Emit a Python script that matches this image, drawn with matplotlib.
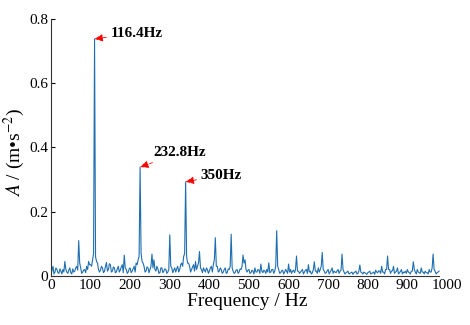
import numpy as np
import matplotlib
matplotlib.use("Agg")
import matplotlib.pyplot as plt

plt.rcParams['font.family'] = ['Liberation Serif', 'DejaVu Serif']
plt.rcParams['mathtext.fontset'] = 'stix'

# spectrum: values at every 5 Hz ...
freq = np.arange(0, 985, 5)
amp = [
    0.005, 0.03, 0.012, 0.02, 0.008, 0.015, 0.02, 0.045, 0.012, 0.018,
    0.01, 0.022, 0.015, 0.03, 0.11, 0.025, 0.012, 0.02, 0.03, 0.045,
    0.035, 0.05, 0.738, 0.045, 0.02, 0.018, 0.025, 0.015, 0.042, 0.02,
    0.035, 0.015, 0.025, 0.012, 0.03, 0.018, 0.035, 0.065, 0.02, 0.012,
    0.025, 0.015, 0.03, 0.04, 0.05, 0.339, 0.045, 0.03, 0.015, 0.025,
    0.02, 0.068, 0.05, 0.015, 0.022, 0.01, 0.025, 0.015, 0.02, 0.012,
    0.128, 0.025, 0.018, 0.012, 0.03, 0.02, 0.04, 0.06, 0.293, 0.04,
    0.03, 0.02, 0.035, 0.045, 0.03, 0.076, 0.02, 0.025, 0.012, 0.02,
    0.015, 0.03, 0.035, 0.119, 0.03, 0.015, 0.02, 0.012, 0.025, 0.01,
    0.02, 0.13, 0.015, 0.01, 0.02, 0.012, 0.02, 0.065, 0.05, 0.012,
    0.02, 0.01, 0.015, 0.025, 0.012, 0.018, 0.037, 0.01, 0.015, 0.02,
    0.041, 0.012, 0.02, 0.015, 0.141, 0.02, 0.01, 0.018, 0.012, 0.015,
    0.037, 0.02, 0.015, 0.01, 0.062, 0.015, 0.012, 0.02, 0.012, 0.02,
    0.035, 0.015, 0.01, 0.044, 0.015, 0.025, 0.02, 0.073, 0.015, 0.01,
    0.02, 0.012, 0.025, 0.015, 0.01, 0.02, 0.015, 0.068, 0.012, 0.01,
    0.015, 0.008, 0.012, 0.01, 0.015, 0.008, 0.034, 0.01, 0.012, 0.008,
    0.01, 0.015, 0.008, 0.012, 0.018, 0.01, 0.015, 0.03, 0.012, 0.02,
    0.062, 0.02, 0.015, 0.03, 0.012, 0.025, 0.01, 0.02, 0.012, 0.015,
    0.02, 0.01, 0.015, 0.044, 0.012, 0.02, 0.01, 0.025, 0.012, 0.015,
    0.01, 0.02, 0.012, 0.068, 0.015, 0.01, 0.015,
]
# ... and the noise in between (2.5, 7.5, ... Hz)
freq_mid = np.arange(2.5, 980, 5)
amp_mid = [
    0.018, 0.006, 0.025, 0.01, 0.022, 0.006, 0.012, 0.02, 0.008, 0.025,
    0.006, 0.012, 0.025, 0.018, 0.04, 0.008, 0.018, 0.01, 0.02, 0.035,
    0.03, 0.07, 0.06, 0.04, 0.012, 0.03, 0.01, 0.028, 0.015, 0.038,
    0.012, 0.028, 0.01, 0.022, 0.012, 0.028, 0.01, 0.025, 0.008, 0.022,
    0.01, 0.022, 0.012, 0.035, 0.06, 0.07, 0.04, 0.012, 0.028, 0.01,
    0.03, 0.025, 0.02, 0.03, 0.008, 0.025, 0.01, 0.022, 0.008, 0.02,
    0.03, 0.01, 0.025, 0.022, 0.012, 0.035, 0.03, 0.07, 0.06, 0.04,
    0.012, 0.028, 0.015, 0.02, 0.04, 0.025, 0.01, 0.018, 0.025, 0.008,
    0.025, 0.012, 0.05, 0.03, 0.012, 0.025, 0.008, 0.02, 0.008, 0.022,
    0.03, 0.025, 0.008, 0.018, 0.008, 0.022, 0.03, 0.04, 0.02, 0.018,
    0.008, 0.018, 0.006, 0.012, 0.02, 0.008, 0.015, 0.018, 0.008, 0.012,
    0.01, 0.02, 0.008, 0.03, 0.03, 0.008, 0.016, 0.006, 0.02, 0.008,
    0.012, 0.008, 0.018, 0.02, 0.015, 0.008, 0.016, 0.006, 0.018, 0.008,
    0.012, 0.006, 0.02, 0.015, 0.008, 0.012, 0.03, 0.02, 0.008, 0.016,
    0.006, 0.018, 0.008, 0.012, 0.016, 0.008, 0.018, 0.02, 0.006, 0.012,
    0.006, 0.01, 0.005, 0.012, 0.006, 0.015, 0.012, 0.006, 0.01, 0.005,
    0.012, 0.006, 0.01, 0.005, 0.012, 0.016, 0.008, 0.012, 0.006, 0.02,
    0.02, 0.008, 0.016, 0.008, 0.015, 0.006, 0.014, 0.006, 0.01, 0.008,
    0.012, 0.006, 0.015, 0.02, 0.006, 0.012, 0.008, 0.012, 0.006, 0.01,
    0.006, 0.012, 0.025, 0.02, 0.006, 0.012,
]

# labelled peaks: text, peak position, text position
peak_labels = ['116.4Hz', '232.8Hz', '350Hz']
peak_xy = [(110, 0.738), (225, 0.339), (340, 0.293)]
text_xy = [(150, 0.756), (259, 0.383), (378, 0.314)]

xticks = [0, 100, 200, 300, 400, 500, 600, 700, 800, 900, 1000]
yticks = [0, 0.2, 0.4, 0.6, 0.8]
ytick_labels = ['0', '0.2', '0.4', '0.6', '0.8']

# merge the two sample sets in frequency order
x_all = np.concatenate([freq, freq_mid])
y_all = np.concatenate([amp, amp_mid])
order = np.argsort(x_all)
x_all, y_all = x_all[order], y_all[order]

fig = plt.figure(figsize=(4.7, 3.25), dpi=100)
ax = fig.add_axes([0.1085, 0.151, 0.8425, 0.7905])

ax.plot(x_all, y_all, color='#1f6fb0', lw=0.8)

for lab, p, t in zip(peak_labels, peak_xy, text_xy):
    ax.annotate(lab, xy=p, xytext=t, ha='left', va='center',
                fontsize=11, fontweight='bold',
                arrowprops=dict(arrowstyle='-|>,head_length=0.45,head_width=0.2',
                                color='red', lw=0.6, linestyle='--',
                                shrinkA=1, shrinkB=0))

ax.set_xlim(0, 1000)
ax.set_ylim(0, 0.8)
ax.set_xticks(xticks)
ax.set_yticks(yticks)
ax.set_yticklabels(ytick_labels)
ax.tick_params(direction='in', length=3, labelsize=11, pad=2)
ax.tick_params(axis='x', length=0)

ax.spines['top'].set_visible(False)
ax.spines['right'].set_visible(False)
ax.spines['bottom'].set_bounds(0, 980)
ax.spines['left'].set_color('#333333')
ax.spines['bottom'].set_color('#333333')

ax.set_xlabel('Frequency / Hz', fontsize=14)
ax.xaxis.set_label_coords(0.495, -0.068)
ax.set_ylabel(r'$A$ / (m•s$^{-2}$)', fontsize=14)
ax.yaxis.set_label_coords(-0.06, 0.48)

fig.savefig('out.png', dpi=100)
